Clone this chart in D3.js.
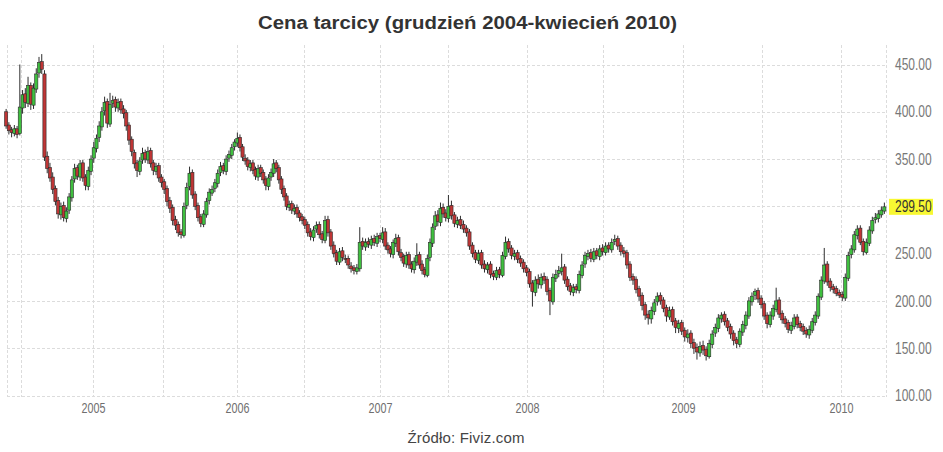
<!DOCTYPE html>
<html><head><meta charset="utf-8">
<script src="https://cdn.jsdelivr.net/npm/d3@7"></script>
<style>body{margin:0;background:#fff}svg{display:block}</style>
</head><body>
<svg id="chart" width="943" height="452"></svg>
<script>
// ---- DATA ----
const titleText = "Cena tarcicy (grudzień 2004-kwiecień 2010)";
const sourceText = "Źródło: Fiviz.com";
const firstWeek = "2004-05-24";
const yTickValues = [100, 150, 200, 250, 300, 350, 400, 450];
const yearTicks = ["2005-01-01","2006-01-01","2007-01-01","2008-01-01","2009-01-01","2010-01-01"];
const gridDates = ["2004-07-01","2005-01-01","2005-07-01","2006-01-01","2006-07-01","2007-01-01","2007-07-01","2008-01-01","2008-07-01","2009-01-01","2009-07-01","2010-01-01"];
const lastPrice = 299.5;

const opens = [
400,386,381,377,382,377,404,419,409,428,
407,424,441,453,440,353,341,331,319,306,
291,301,287,296,309,329,341,331,346,331,
321,337,351,361,373,384,401,411,387,409,
413,404,411,403,399,386,371,357,346,337,
349,357,349,359,346,337,343,331,326,319,
306,299,286,281,273,269,301,321,336,313,
301,289,281,291,306,314,319,324,336,343,
337,351,354,363,367,373,363,351,349,341,
346,339,331,341,336,329,321,331,335,346,
341,329,319,311,299,303,295,299,293,289,
286,281,273,267,276,281,271,264,286,273,
259,251,241,253,245,245,237,235,231,234,
263,257,263,259,266,261,269,265,273,259,
255,249,261,267,251,247,239,249,239,233,
241,249,239,233,227,246,261,279,291,283,
299,293,287,301,291,281,286,281,277,273,
259,251,243,251,239,233,239,229,225,233,
227,247,263,256,247,251,245,241,235,231,
219,209,223,217,226,223,211,199,224,229,
231,236,223,216,209,215,211,227,239,247,
251,244,253,247,256,251,259,254,263,266,
259,253,251,239,226,223,213,206,196,186,
181,189,199,206,201,193,183,191,179,171,
177,169,161,166,156,151,145,153,149,141,
154,166,171,181,186,179,173,166,159,154,
167,174,184,199,206,211,203,197,185,175,
184,191,201,187,181,177,169,173,183,176,
173,169,164,169,177,184,204,221,239,221,
215,213,209,207,203,224,249,254,269,277,
263,251,261,274,286,287,291,295
];
const highs = [
403,389,384,386,385,450,423,425,437,431,
430,446,458,461,444,358,346,336,322,310,
304,305,299,314,332,345,344,349,349,334,
342,354,368,376,390,405,416,414,420,417,
416,414,414,407,402,389,374,360,349,352,
362,360,363,362,349,346,346,334,329,322,
310,302,290,284,276,304,325,342,339,316,
304,292,296,309,319,322,329,339,347,346,
354,359,366,371,378,376,366,355,352,349,
349,342,344,344,339,332,334,340,350,349,
344,332,322,314,306,306,302,302,296,292,
289,284,277,279,284,284,274,290,290,276,
263,254,256,257,249,248,241,238,239,278,
267,266,267,269,270,272,272,278,277,262,
258,265,271,270,255,250,252,252,242,246,
261,252,243,236,249,266,282,295,296,304,
303,297,312,306,294,289,290,285,280,276,
262,254,254,254,243,241,242,232,236,236,
252,268,266,259,254,254,248,244,238,234,
222,226,228,229,230,226,214,229,233,237,
250,239,226,219,218,218,232,242,252,254,
255,256,256,259,260,262,262,266,270,269,
262,257,254,242,229,226,216,209,199,190,
194,202,209,209,204,196,194,194,182,180,
180,172,170,169,160,155,157,158,152,159,
169,176,186,188,189,182,176,169,162,171,
179,189,204,209,213,214,206,200,188,189,
196,214,204,190,184,180,178,186,186,179,
176,172,174,182,189,208,226,256,242,224,
218,216,212,210,229,252,259,274,280,280,
266,266,279,289,293,296,300,304
];
const lows = [
382,376,373,374,372,375,398,404,405,402,
403,420,436,440,348,335,326,313,301,287,
286,284,283,292,305,325,328,327,326,317,
317,333,346,357,368,380,396,383,384,404,
400,400,398,393,380,365,353,340,331,333,
345,346,345,341,333,333,326,320,313,300,
293,280,275,268,266,267,297,317,308,296,
284,278,278,288,302,311,315,320,332,334,
333,347,350,359,363,358,348,344,338,337,
334,328,327,331,324,317,317,327,331,336,
324,313,306,296,295,292,291,288,284,281,
276,268,264,263,272,266,261,261,268,254,
246,238,238,242,240,234,230,228,228,231,
254,253,256,255,258,257,262,261,254,250,
246,245,257,248,242,236,235,234,230,229,
237,234,228,225,225,242,257,275,279,279,
288,284,283,286,278,277,276,272,268,254,
246,240,239,234,230,229,224,222,222,224,
225,244,251,244,243,240,236,230,226,214,
194,205,213,213,218,206,185,196,220,225,
227,218,211,206,205,208,208,224,235,243,
241,241,244,243,248,248,251,251,259,254,
248,246,234,221,217,208,200,190,180,175,
176,185,195,196,188,178,180,174,166,166,
164,157,156,150,144,138,141,143,137,139,
150,162,167,177,174,168,160,153,150,151,
163,170,181,195,201,198,192,180,171,172,
180,188,182,176,172,166,165,170,171,168,
164,161,160,166,174,181,201,218,216,210,
208,205,203,200,200,221,245,251,265,259,
248,249,258,271,282,283,288,292
];
const closes = [
385,380,378,382,376,405,418,410,428,408,
425,440,452,445,352,340,330,318,305,292,
300,288,295,310,328,340,332,345,330,322,
338,350,362,372,385,400,410,388,408,412,
405,410,402,398,385,370,358,345,338,348,
356,350,358,345,338,342,330,325,318,305,
298,285,280,272,270,300,320,335,312,300,
288,282,292,305,315,318,325,335,342,338,
350,355,362,368,372,362,352,348,342,345,
338,332,340,335,328,322,330,336,345,340,
328,318,310,300,302,296,298,292,288,285,
280,272,268,275,280,270,265,285,272,258,
250,242,252,246,244,238,234,232,235,262,
258,262,260,265,262,268,266,272,258,254,
250,262,266,252,246,240,248,238,234,242,
248,238,232,228,245,262,278,290,284,298,
292,288,300,290,282,285,280,276,272,258,
250,244,250,238,234,238,228,226,232,228,
248,262,255,248,250,244,240,234,230,218,
210,222,218,225,222,210,200,225,228,232,
235,222,215,210,214,212,228,238,248,250,
245,252,248,255,252,258,255,262,265,258,
252,250,238,225,222,212,205,195,185,182,
190,198,205,200,192,184,190,178,172,176,
168,162,165,155,150,146,152,148,142,155,
165,172,182,185,178,172,165,158,155,168,
175,185,200,205,210,202,196,184,176,185,
192,200,186,180,176,170,174,182,175,172,
168,165,170,178,185,205,222,238,220,214,
212,208,206,204,225,248,255,270,276,262,
252,262,275,285,288,292,296,299.5
];

// ---- DRAWING ----
const svg = d3.select("#chart");
const parse = d3.utcParse("%Y-%m-%d");
const start = parse(firstWeek);
const candles = closes.map((c, i) => ({
  date: d3.utcDay.offset(start, 7 * i), o: opens[i], h: highs[i], l: lows[i], c: c
}));

const plotLeft = 7, plotRight = 886, plotTop = 45, plotBottom = 397;
const x = d3.scaleUtc()
  .domain(gridDates.map(parse))
  .range([21, 93, 163, 237, 304, 380, 448, 527, 603, 683, 762, 841]);
const y = d3.scaleLinear().domain([100, 450]).range([395.5, 64.5]);

const grid = svg.append("g").attr("stroke", "#dcdcdc").attr("stroke-width", 1)
  .attr("stroke-dasharray", "3,2").attr("fill", "none");
yTickValues.forEach(v => {
  grid.append("line").attr("x1", plotLeft).attr("x2", plotRight)
    .attr("y1", Math.round(y(v)) + 0.5).attr("y2", Math.round(y(v)) + 0.5);
});
[plotLeft, ...gridDates.map(d => x(parse(d))), plotRight].forEach(px => {
  grid.append("line").attr("x1", Math.round(px) + 0.5).attr("x2", Math.round(px) + 0.5)
    .attr("y1", plotTop).attr("y2", plotBottom);
});

// candles
const bw = 3.2;
const cg = svg.append("g");
cg.selectAll("line.wick").data(candles).join("line").attr("class", "wick")
  .attr("x1", d => x(d.date)).attr("x2", d => x(d.date))
  .attr("y1", d => y(d.h)).attr("y2", d => y(d.l))
  .attr("stroke", "#2e2e2e").attr("stroke-width", 1);
cg.selectAll("rect.body").data(candles).join("rect").attr("class", "body")
  .attr("x", d => x(d.date) - bw / 2).attr("width", bw)
  .attr("y", d => y(Math.max(d.o, d.c)))
  .attr("height", d => Math.max(1, Math.abs(y(d.o) - y(d.c))))
  .attr("fill", d => d.c >= d.o ? "#3fbf3f" : "#bf3535")
  .attr("stroke", "#2a2a2a").attr("stroke-width", 0.6);

// right axis
const yAxis = d3.axisRight(y).tickValues(yTickValues).tickSize(0).tickPadding(0)
  .tickFormat(d3.format(".2f"));
const ya = svg.append("g").attr("transform", `translate(895,0)`).call(yAxis);
ya.select(".domain").remove();
ya.selectAll("text").attr("fill", "#777").attr("font-family", "Liberation Sans, Arial, sans-serif")
  .attr("font-size", 16).attr("x", 0).attr("text-anchor", "start")
  .attr("transform", "scale(0.75,1)");

// bottom axis
const xAxis = d3.axisBottom(x).tickValues(yearTicks.map(parse)).tickSize(0).tickPadding(0)
  .tickFormat(d3.utcFormat("%Y"));
const xa = svg.append("g").attr("transform", `translate(0,${plotBottom})`).call(xAxis);
xa.select(".domain").remove();
xa.selectAll("text").attr("fill", "#6f6f6f").attr("font-family", "Liberation Sans, Arial, sans-serif")
  .attr("font-size", 14).attr("x", 0).attr("y", 16).attr("dy", 0)
  .attr("transform", "scale(0.77,1)");

// last price label
const lp = svg.append("g").attr("transform", `translate(889,${y(lastPrice)})`);
lp.append("rect").attr("x", 0).attr("y", -8).attr("width", 44).attr("height", 16).attr("fill", "#f8f832");
lp.append("text").attr("x", 8).attr("y", 0).attr("dy", "0.34em")
  .attr("font-family", "Liberation Sans, Arial, sans-serif").attr("font-size", 16)
  .attr("fill", "#333").attr("transform", "scale(0.75,1)")
  .text(d3.format(".2f")(lastPrice));

// title & source
svg.append("text").attr("x", 467.5).attr("y", 29).attr("text-anchor", "middle")
  .attr("font-family", "Liberation Sans, Arial, sans-serif").attr("font-weight", "bold")
  .attr("font-size", 18).attr("fill", "#333")
  .attr("textLength", 419).attr("lengthAdjust", "spacingAndGlyphs").text(titleText);
svg.append("text").attr("x", 466).attr("y", 443).attr("text-anchor", "middle")
  .attr("font-family", "Liberation Sans, Arial, sans-serif")
  .attr("font-size", 15).attr("fill", "#444").attr("textLength", 117).text(sourceText);
</script>
</body></html>
